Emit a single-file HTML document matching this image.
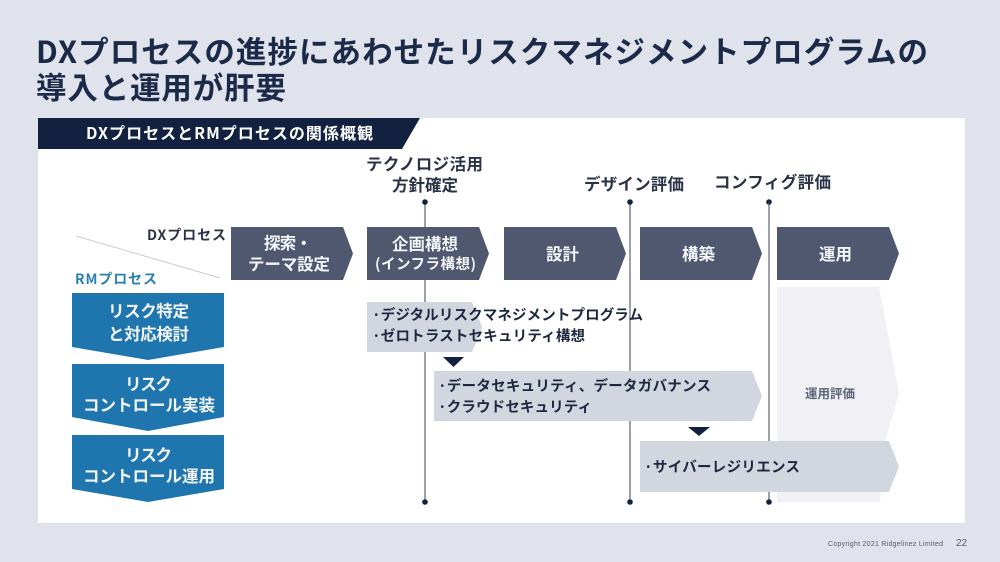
<!DOCTYPE html>
<html lang="ja"><head><meta charset="utf-8"><style>
html,body{margin:0;padding:0;background:#e1e3ec}
svg{display:block;filter:blur(0.3px)}
text{font-family:"Liberation Sans","Noto Sans CJK JP",sans-serif;font-weight:700}
.j{font-family:"Noto Sans CJK JP",sans-serif}
</style></head><body>
<svg xmlns="http://www.w3.org/2000/svg" width="1000" height="562" viewBox="0 0 1000 562">
<rect width="1000" height="562" fill="#e1e3ec"/>
<rect x="38" y="118" width="927" height="405" fill="#fff"/>
<polygon points="38,118 420,118 402,149 38,149" fill="#12213f"/>
<text class="j" x="36" y="63" font-size="30.500" fill="#1b2a48" textLength="892" lengthAdjust="spacing">DXプロセスの進捗にあわせたリスクマネジメントプログラムの</text>
<text class="j" x="36" y="99" font-size="30.500" fill="#1b2a48" textLength="250" lengthAdjust="spacing">導入と運用が肝要</text>
<text class="j" x="86" y="139" font-size="16" fill="#fff" textLength="287" lengthAdjust="spacing">DXプロセスとRMプロセスの関係概観</text>
<line x1="76" y1="236" x2="220" y2="278" stroke="#c9ccd2" stroke-width="1"/>
<g stroke="#4a5468" stroke-width="1.100">
<line x1="425" y1="202" x2="425" y2="502"/>
<line x1="630" y1="202" x2="630" y2="502"/>
</g>
<g fill="#12213f">
<circle cx="425" cy="202" r="2.800"/><circle cx="630" cy="202" r="2.800"/><circle cx="769" cy="202" r="2.800"/>
<circle cx="425" cy="502" r="2.800"/><circle cx="630" cy="502" r="2.800"/>
</g>
<polygon points="777,287 879,287 899,394 885,441 880,502 777,502" fill="#f0f0f5"/>
<line x1="769" y1="202" x2="769" y2="502" stroke="#4a5468" stroke-width="1.100"/>
<circle cx="769" cy="502" r="2.800" fill="#12213f"/>
<g fill="#4f586e">
<polygon points="231,227 343,227 353,253.500 343,280 231,280"/>
<polygon points="367,227 479,227 489,253.500 479,280 367,280"/>
<polygon points="504,227 616,227 626,253.500 616,280 504,280"/>
<polygon points="640,227 752,227 762,253.500 752,280 640,280"/>
<polygon points="777,227 889,227 899,253.500 889,280 777,280"/>
</g>
<g fill="#1f76ae">
<polygon points="72,293 224,293 224,347 148,360 72,347"/>
<polygon points="72,364 224,364 224,417 148,431 72,417"/>
<polygon points="72,435 224,435 224,489 148,502 72,489"/>
</g>
<g fill="#d2d6df">
<polygon points="367,302 472,302 482,327 472,352 367,352"/>
<polygon points="434,371 752,371 762,396 752,421 434,421"/>
<polygon points="640,441 889,441 899,466.500 889,492 640,492"/>
</g>
<g fill="#12213f">
<polygon points="443,357 464,357 453.500,367"/>
<polygon points="688,427 710,427 699,436"/>
</g>
<g fill="#2a3245">
<text class="j" x="366" y="170" font-size="16.500" textLength="117" lengthAdjust="spacing">テクノロジ活用</text>
<text class="j" x="392" y="191" font-size="16.500" textLength="66" lengthAdjust="spacing">方針確定</text>
<text class="j" x="584" y="190" font-size="16.500" textLength="100" lengthAdjust="spacing">デザイン評価</text>
<text class="j" x="714" y="188" font-size="16.500" textLength="117" lengthAdjust="spacing">コンフィグ評価</text>
<text class="j" x="147" y="240" font-size="14" textLength="79" lengthAdjust="spacing">DXプロセス</text>
</g>
<text class="j" x="75" y="284" font-size="14" fill="#2a7fb0" textLength="82" lengthAdjust="spacing">RMプロセス</text>
<g fill="#f4f5f8">
<text class="j" x="264" y="249" font-size="16.500" textLength="48" lengthAdjust="spacing">探索・</text>
<text class="j" x="248" y="270" font-size="16.500" textLength="82" lengthAdjust="spacing">テーマ設定</text>
<text class="j" x="392" y="250" font-size="16.500" textLength="66" lengthAdjust="spacing">企画構想</text>
<text class="j" x="375" y="269" font-size="14.500" textLength="101" lengthAdjust="spacing">(インフラ構想)</text>
<text class="j" x="546" y="260" font-size="16.500" textLength="33" lengthAdjust="spacing">設計</text>
<text class="j" x="682" y="260" font-size="16.500" textLength="33" lengthAdjust="spacing">構築</text>
<text class="j" x="819" y="260" font-size="16.500" textLength="33" lengthAdjust="spacing">運用</text>
<text class="j" x="108" y="317" font-size="16.500" textLength="81" lengthAdjust="spacing">リスク特定</text>
<text class="j" x="108" y="340" font-size="16.500" textLength="81" lengthAdjust="spacing">と対応検討</text>
<text class="j" x="125" y="390" font-size="16.500" textLength="47" lengthAdjust="spacing">リスク</text>
<text class="j" x="83" y="411" font-size="16.500" textLength="132" lengthAdjust="spacing">コントロール実装</text>
<text class="j" x="125" y="461" font-size="16.500" textLength="47" lengthAdjust="spacing">リスク</text>
<text class="j" x="83" y="482" font-size="16.500" textLength="132" lengthAdjust="spacing">コントロール運用</text>
</g>
<g fill="#1d2840" font-size="14.500">
<text class="j" x="372" y="320" textLength="271" lengthAdjust="spacing">·デジタルリスクマネジメントプログラム</text>
<text class="j" x="372" y="341" textLength="213" lengthAdjust="spacing">·ゼロトラストセキュリティ構想</text>
<text class="j" x="438" y="391" textLength="273" lengthAdjust="spacing">·データセキュリティ、データガバナンス</text>
<text class="j" x="438" y="412" textLength="154" lengthAdjust="spacing">·クラウドセキュリティ</text>
<text class="j" x="644" y="472" textLength="156" lengthAdjust="spacing">·サイバーレジリエンス</text>
</g>
<text class="j" x="805" y="398" font-size="12.500" fill="#5c6475" textLength="50" lengthAdjust="spacing">運用評価</text>
<text x="828" y="546" font-size="7" style="font-weight:400" fill="#555c6c" textLength="115" lengthAdjust="spacing">Copyright 2021 Ridgelinez Limited</text>
<text x="956" y="546" font-size="10" style="font-weight:400" fill="#555c6c">22</text>
</svg>
</body></html>
